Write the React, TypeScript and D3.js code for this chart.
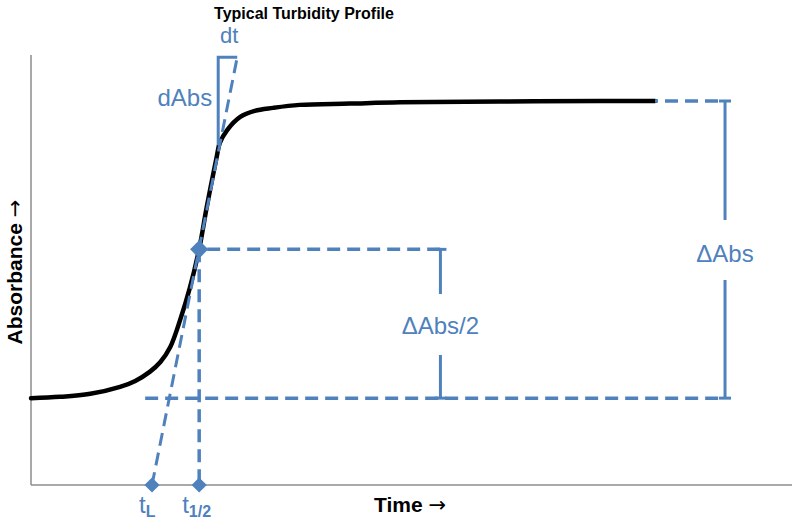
import React from 'react';
import * as d3 from 'd3';

// turbidity curve (time, absorbance)
const times = [0, 3.8, 7.8, 11.7, 13.7, 15.6, 17.0, 18.3, 19.6, 20.9, 22.1, 23.1, 24.4, 24.8, 25.8, 27.5, 29.4, 31.8, 35.3, 41.9, 48.5, 61.6, 74.8, 82.0];
const absorb = [0.202, 0.205, 0.212, 0.228, 0.242, 0.263, 0.286, 0.321, 0.384, 0.460, 0.549, 0.647, 0.763, 0.795, 0.826, 0.856, 0.870, 0.877, 0.884, 0.887, 0.890, 0.892, 0.893, 0.893];

// annotation values
const absBase = 0.202;
const absPlateau = 0.893;
const absHalf = 0.548;
const tHalf = 22.1;
const tLag = 15.9;
const tTangentTop = 27.1;
const absTangentTop = 0.995;
const tDAbs = 24.6;
const absDAbsEnd = 0.79;
const tBaseStart = 15.0;
const tHalfLineEnd = 53.8;
const tPlateauEnd = 82.0;
const tBracket = 91.2;

const W = 792;
const H = 523;
const blue = '#4f81bd';
const font = '"Liberation Sans", Arial, sans-serif';
const arrowFont = '"DejaVu Sans", sans-serif';

export default function App() {
    const x = d3.scaleLinear().domain([0, 100]).range([31, 792]);
    const y = d3.scaleLinear().domain([0, 1]).range([485, 55]);

    const pts = times.map((t, i) => [t, absorb[i]] as [number, number]);
    const line = d3.line<[number, number]>()
        .x(d => x(d[0]))
        .y(d => y(d[1]))
        .curve(d3.curveCatmullRom.alpha(0.5));

    const dash = '13,7';
    const diamond = (size: number) => d3.symbol().type(d3.symbolSquare).size(size)() as string;

    // vertical bracket with a gap for the label
    const bracket = (t: number, a0: number, a1: number, gapTop: number, gapBot: number) => {
        const bx = x(t);
        return (
            <g stroke={blue} strokeWidth={3}>
                <line x1={bx} x2={bx} y1={y(a0)} y2={gapTop} />
                <line x1={bx} x2={bx} y1={gapBot} y2={y(a1)} />
                <line x1={bx - 6} x2={bx + 6} y1={y(a0)} y2={y(a0)} />
                <line x1={bx - 6} x2={bx + 6} y1={y(a1)} y2={y(a1)} />
            </g>
        );
    };

    return (
        <svg width={W} height={H} style={{ position: 'absolute', left: 0, top: 0 }} fontFamily={font}>
            <rect width={W} height={H} fill="white" />
            <text x={304} y={19} textAnchor="middle" fontWeight="bold" fontSize={16}>Typical Turbidity Profile</text>

            {/* axes */}
            <line x1={x(0)} x2={x(0)} y1={y(1)} y2={y(0)} stroke="#8c8c8c" strokeWidth={1.5} />
            <line x1={x(0)} x2={x(100)} y1={y(0)} y2={y(0)} stroke="#8c8c8c" strokeWidth={1.5} />

            {/* data curve */}
            <path d={line(pts) as string} fill="none" stroke="black" strokeWidth={4.5} strokeLinecap="round" />

            {/* dashed guides */}
            <g stroke={blue} strokeWidth={3.5} strokeDasharray={dash} fill="none">
                <line x1={x(tBaseStart)} x2={x(tBracket)} y1={y(absBase)} y2={y(absBase)} />
                <line x1={x(tHalf)} x2={x(tHalfLineEnd)} y1={y(absHalf)} y2={y(absHalf)} strokeDashoffset={-8} />
                <line x1={x(tPlateauEnd)} x2={x(tBracket)} y1={y(absPlateau)} y2={y(absPlateau)} strokeDasharray="3,7,13,7,13,7,13,7" />
                <line x1={x(tHalf)} x2={x(tHalf)} y1={y(absHalf)} y2={y(0)} />
                <line x1={x(tLag)} x2={x(tTangentTop)} y1={y(0)} y2={y(absTangentTop)} strokeWidth={3} />
            </g>

            {/* dt / dAbs triangle */}
            <g stroke={blue} strokeWidth={3} fill="none">
                <polyline points={`${x(tDAbs)},${y(absDAbsEnd)} ${x(tDAbs)},${y(absTangentTop)} ${x(tTangentTop)},${y(absTangentTop)}`} />
            </g>

            {bracket(tHalfLineEnd, absHalf, absBase, 294, 355)}
            {bracket(tBracket, absPlateau, absBase, 220, 280)}

            {/* diamonds */}
            <path d={diamond(115)} transform={`translate(${x(tLag)},${y(0)}) rotate(45)`} fill={blue} />
            <path d={diamond(115)} transform={`translate(${x(tHalf)},${y(0)}) rotate(45)`} fill={blue} />
            <path d={diamond(165)} transform={`translate(${x(tHalf)},${y(absHalf)}) rotate(45)`} fill={blue} />

            {/* labels */}
            <g fill={blue} fontSize={24}>
                <text x={x(tDAbs) + 11} y={43} textAnchor="middle" fontSize={22}>dt</text>
                <text x={x(tDAbs) - 6} y={106} textAnchor="end">dAbs</text>
                <text x={x(tHalfLineEnd)} y={334} textAnchor="middle">ΔAbs/2</text>
                <text x={x(tBracket)} y={262} textAnchor="middle">ΔAbs</text>
                <text x={x(tLag) - 13} y={513}>t<tspan fontSize={16} fontWeight="bold" dy={4}>L</tspan></text>
                <text x={x(tHalf) - 17} y={513}>t<tspan fontSize={16} fontWeight="bold" dy={4}>1/2</tspan></text>
            </g>

            <text x={410} y={512} textAnchor="middle" fontWeight="bold" fontSize={21}>
                Time <tspan fontFamily={arrowFont} fontWeight="normal">→</tspan>
            </text>
            <text transform="translate(22,272) rotate(-90)" textAnchor="middle" fontWeight="bold" fontSize={21}>
                Absorbance <tspan fontFamily={arrowFont} fontWeight="normal">→</tspan>
            </text>
        </svg>
    );
}
